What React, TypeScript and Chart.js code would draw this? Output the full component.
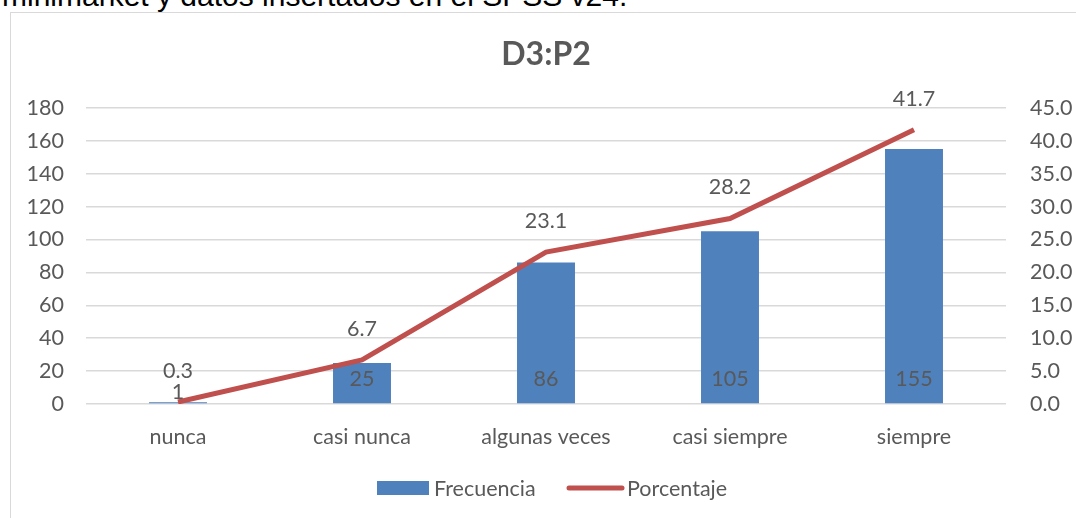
import React, { useEffect, useRef } from "react";
import { Chart, registerables } from "chart.js";

Chart.register(...registerables);

const categories = ["nunca", "casi nunca", "algunas veces", "casi siempre", "siempre"];
const frecuencia = [1, 25, 86, 105, 155];
const porcentaje = [0.3, 6.7, 23.1, 28.2, 41.7];
const leftTicks = [0, 20, 40, 60, 80, 100, 120, 140, 160, 180];
const rightTicks = [0, 5, 10, 15, 20, 25, 30, 35, 40, 45];

const FONT = "Lato, 'Noto Sans', sans-serif";
const FS = 21.5;
const TXT = "#595959";
const BLUE = "#4f81bd";
const RED = "#c0504d";

const overlay = {
  id: "overlay",
  afterDatasetsDraw(chart: any) {
    const ctx = chart.ctx;
    ctx.save();
    ctx.font = `${FS}px ${FONT}`;
    ctx.fillStyle = TXT;
    ctx.textAlign = "center";
    ctx.textBaseline = "middle";
    const bars = chart.getDatasetMeta(0).data;
    bars.forEach((b: any, i: number) => {
      const h = b.base - b.y;
      const y = h >= 30 ? b.base - 24 : b.base - 11;
      ctx.fillText(String(frecuencia[i]), b.x, y);
    });
    const pts = chart.getDatasetMeta(1).data;
    pts.forEach((p: any, i: number) => {
      ctx.fillText(porcentaje[i].toFixed(1), p.x, p.y - 31);
    });
    // title
    ctx.font = `bold 32px ${FONT}`;
    ctx.fillText("D3:P2", (chart.chartArea.left + chart.chartArea.right) / 2, 42);
    // legend
    const ly = 475;
    ctx.font = `${FS}px ${FONT}`;
    ctx.textAlign = "left";
    ctx.fillStyle = BLUE;
    ctx.fillRect(366, ly - 7, 52, 14);
    ctx.fillStyle = TXT;
    ctx.fillText("Frecuencia", 423, ly + 1);
    ctx.strokeStyle = RED;
    ctx.lineWidth = 5;
    ctx.lineCap = "round";
    ctx.beginPath();
    ctx.moveTo(558, ly);
    ctx.lineTo(611, ly);
    ctx.stroke();
    ctx.fillText("Porcentaje", 616, ly + 1);
    ctx.restore();
  },
};

export default function App() {
  const ref = useRef<HTMLCanvasElement>(null);
  useEffect(() => {
    document.documentElement.style.overflow = "hidden";
    document.body.style.overflow = "hidden";
    const chart = new Chart(ref.current!, {
      type: "bar",
      data: {
        labels: categories,
        datasets: [
          {
            type: "bar",
            label: "Frecuencia",
            data: frecuencia,
            backgroundColor: BLUE,
            yAxisID: "y",
            barPercentage: 0.315,
            categoryPercentage: 1,
            order: 2,
          },
          {
            type: "line",
            label: "Porcentaje",
            data: porcentaje,
            borderColor: RED,
            backgroundColor: RED,
            borderWidth: 5,
            pointRadius: 0,
            tension: 0,
            yAxisID: "y1",
            order: 1,
          } as any,
        ],
      },
      options: {
        animation: false,
        responsive: false,
        layout: { padding: { top: 95, left: 0, right: 0, bottom: 0 } },
        plugins: { legend: { display: false }, tooltip: { enabled: false }, title: { display: false } },
        scales: {
          x: {
            grid: { display: false },
            border: { display: false },
            ticks: { color: TXT, font: { family: FONT, size: FS }, padding: 12 },
            afterFit: (s: any) => { s.height = 114; },
          },
          y: {
            position: "left",
            min: 0,
            max: 180,
            afterBuildTicks: (s: any) => { s.ticks = leftTicks.map((v) => ({ value: v })); },
            ticks: { color: TXT, font: { family: FONT, size: FS }, padding: 22 },
            grid: { color: "#d9d9d9", lineWidth: 1.5, drawTicks: false },
            border: { display: false },
            afterFit: (s: any) => { s.width = 75; },
          },
          y1: {
            position: "right",
            min: 0,
            max: 45,
            afterBuildTicks: (s: any) => { s.ticks = rightTicks.map((v) => ({ value: v })); },
            ticks: { color: TXT, font: { family: FONT, size: FS }, padding: 24, callback: (v: any) => Number(v).toFixed(1) },
            grid: { display: false, drawTicks: false },
            border: { display: false },
            afterFit: (s: any) => { s.width = 70; },
          },
        },
      },
      plugins: [overlay],
    });
    return () => chart.destroy();
  }, []);
  return (
    <div>
      <div style={{ position: "absolute", left: 2, top: -19, fontFamily: "'Liberation Sans', Arial, sans-serif", fontSize: 30, lineHeight: 1, color: "#000", whiteSpace: "nowrap" }}>
        minimarket y datos insertados en el SPSS v24.
      </div>
      <div style={{ position: "absolute", left: 10, top: 12, width: 1100, height: 600, borderLeft: "1px solid #d9d9d9", borderTop: "1px solid #d9d9d9", background: "#fff" }} />
      <canvas ref={ref} width={1065} height={505} style={{ position: "absolute", left: 11, top: 13, width: 1065, height: 505 }} />
    </div>
  );
}
